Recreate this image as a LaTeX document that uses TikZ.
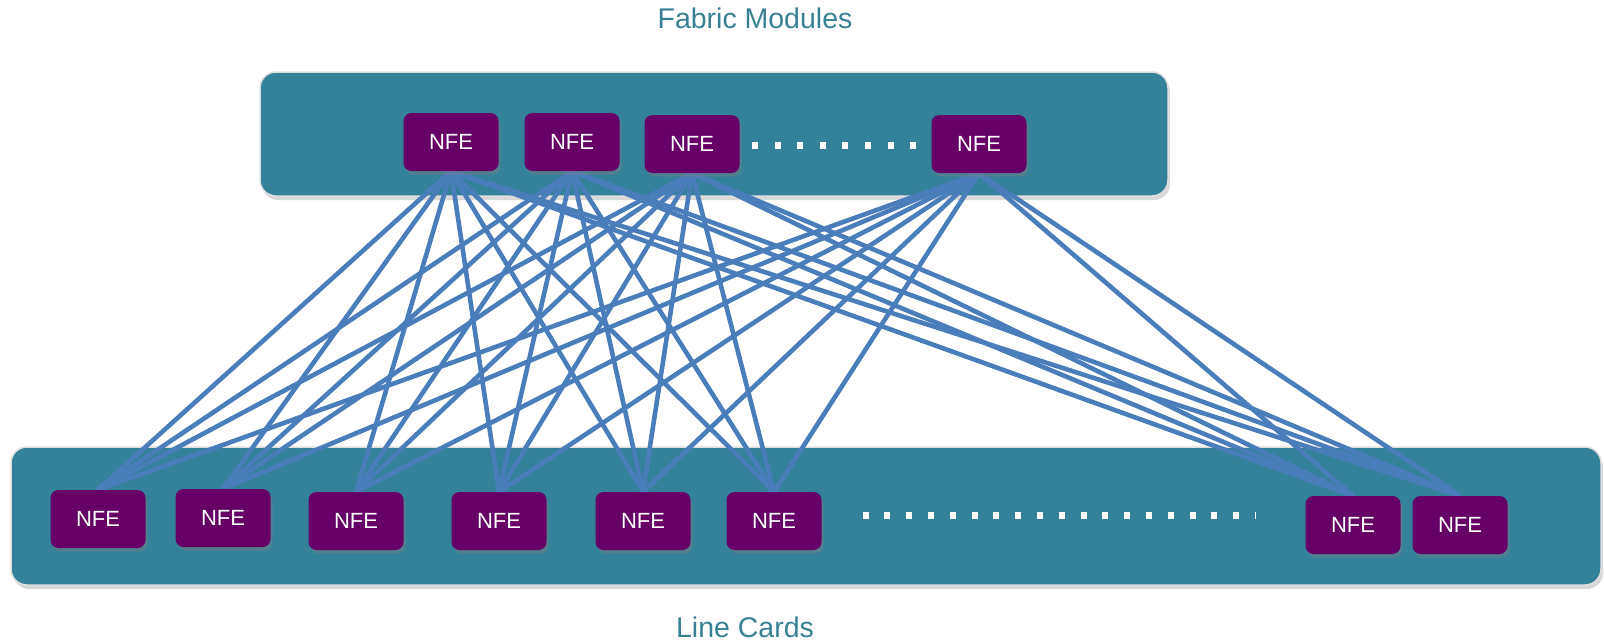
\documentclass[tikz,border=0pt]{standalone}
\usepackage{fontspec}
\setmainfont{Liberation Sans}
\usetikzlibrary{shadows}
\definecolor{boxteal}{HTML}{34819B}
\definecolor{nfepurple}{HTML}{660066}
\definecolor{linkblue}{HTML}{4A7EBB}
\definecolor{labelteal}{HTML}{3A8094}
\pgfdeclarelayer{back}
\pgfdeclarelayer{mid}
\pgfsetlayers{back,mid,main}
\begin{document}
\begin{tikzpicture}[x=1pt,y=-1pt,
  nfe/.style={draw=none, fill=nfepurple, rounded corners=8pt, minimum width=95pt, minimum height=58pt,
    text=white, font=\fontsize{22}{25}\selectfont, inner sep=0pt,
    drop shadow={opacity=0.4, shadow xshift=2pt, shadow yshift=-3.5pt}},
  panel/.style={fill=boxteal, draw=gray!25, line width=1.5pt, rounded corners=16pt, inner sep=0pt,
    drop shadow={opacity=0.3, shadow xshift=2pt, shadow yshift=-4pt}},
  link/.style={draw=linkblue, line width=4.6pt},
  lbl/.style={text=labelteal, font=\fontsize{28.5}{32}\selectfont, inner sep=0pt},
  dotmark/.style={fill=white, draw=none}]
\useasboundingbox (0,0) rectangle (1604,643);

\begin{pgfonlayer}{back}
  \node[panel, minimum width=908pt, minimum height=124pt] (fm) at (714,134) {};
  \node[panel, minimum width=1590pt, minimum height=138pt] (lcpanel) at (806,516) {};
\end{pgfonlayer}

\node[lbl] (title) at (755,18) {Fabric Modules};
\node[lbl] (lctitle) at (745,627) {Line Cards};

% fabric NFEs
\node[nfe] (t1) at (451,142) {NFE};
\node[nfe] (t2) at (572,142) {NFE};
\node[nfe] (t3) at (692,144) {NFE};
\node[nfe] (t4) at (979,144) {NFE};

% line card NFEs
\node[nfe] (b1) at (98,519) {NFE};
\node[nfe] (b2) at (223,518) {NFE};
\node[nfe] (b3) at (356,521) {NFE};
\node[nfe] (b4) at (499,521) {NFE};
\node[nfe] (b5) at (643,521) {NFE};
\node[nfe] (b6) at (774,521) {NFE};
\node[nfe] (b7) at (1353,525) {NFE};
\node[nfe] (b8) at (1460,525) {NFE};

\begin{pgfonlayer}{mid}
  \foreach \t in {t1,t2,t3,t4}
    \foreach \b in {b1,b2,b3,b4,b5,b6,b7,b8}
      \draw[link] (\t.south) -- (\b.north);
\end{pgfonlayer}

% dots
\foreach \i in {0,...,7}
  \fill[dotmark] ({755+22.6*\i-3},141.5) rectangle ++(6,7);
\foreach \i in {0,...,17}
  \fill[dotmark] ({865.5+21.8*\i-3},511.5) rectangle ++(6,7);
\fill[dotmark] (1254.5,511.5) rectangle ++(1.5,7);
\end{tikzpicture}
\end{document}
